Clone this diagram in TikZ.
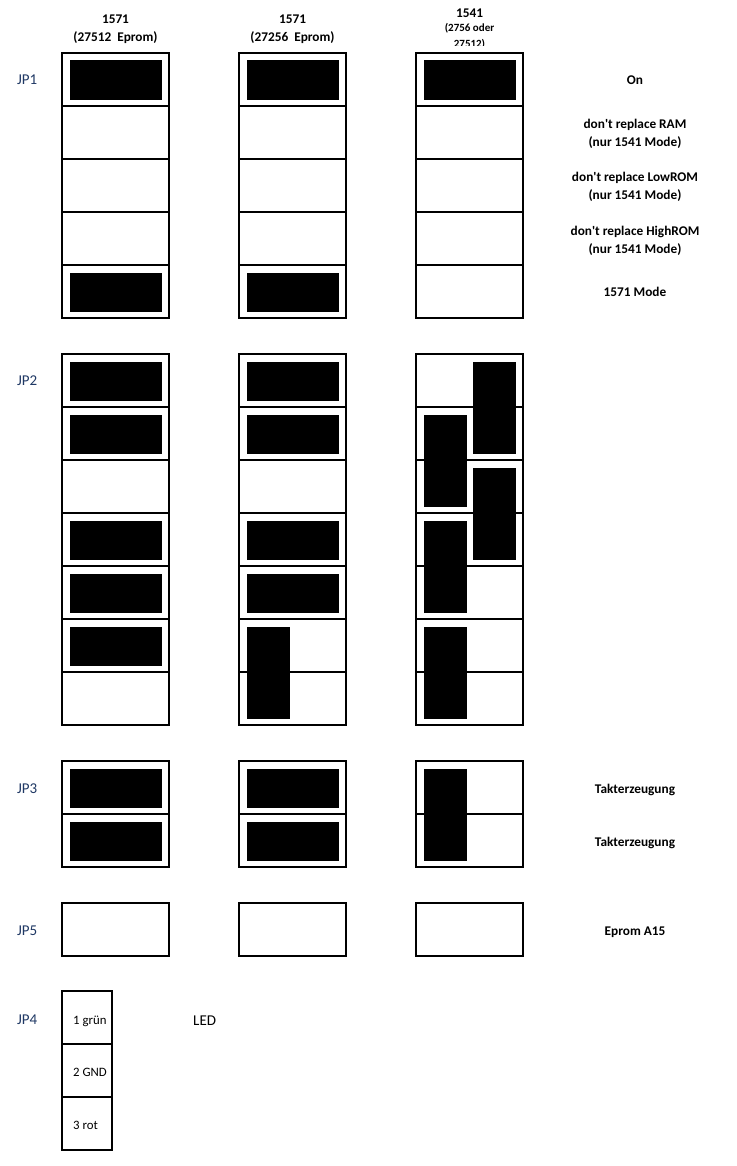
\documentclass[tikz,border=0pt]{standalone}
\usepackage{fontspec}
\setmainfont{Carlito}
\definecolor{jpblue}{RGB}{31,56,100}
\newcommand\blkH[2]{\fill[blk] ({#1+8},{#2+7.5}) rectangle ({#1+100},{#2+47});}
\newcommand\blkL[2]{\fill[blk] ({#1+8},{#2+7.5}) rectangle ({#1+51},{#2+100});}
\newcommand\blkR[2]{\fill[blk] ({#1+57},{#2+7.5}) rectangle ({#1+100},{#2+100});}
\begin{document}
\begin{tikzpicture}[x=1pt,y=-1pt,
  outer/.style={draw=black,line width=2pt},
  thinline/.style={draw=black,line width=1.1pt},
  blk/.style={fill=black},
  hdr/.style={font=\fontsize{13.3}{16}\selectfont\bfseries,inner sep=0pt,anchor=base},
  smallhdr/.style={font=\fontsize{11}{13}\selectfont\bfseries,inner sep=0pt,anchor=base},
  lab/.style={font=\fontsize{13.3}{16}\selectfont\bfseries,inner sep=0pt,anchor=base},
  jp/.style={font=\fontsize{15}{17}\selectfont,text=jpblue,inner sep=0pt,anchor=base west},
  pin/.style={font=\fontsize{12.8}{14}\selectfont,inner sep=0pt,anchor=base west}]
\fill[white] (0,0) rectangle (736,1166);
\useasboundingbox (0,0) rectangle (736,1166);

% headers
\node[hdr] (h1a) at (115.5,24) {1571};
\node[hdr] (h1b) at (115.5,42) {(27512\ \ Eprom)};
\node[hdr] (h2a) at (292.5,24) {1571};
\node[hdr] (h2b) at (292.5,42) {(27256\ \ Eprom)};
\node[hdr] (h3a) at (469.5,17.3) {1541};
\node[smallhdr] (h3b) at (469.5,31.7) {(2756 oder};
\begin{scope}
\clip (400,0) rectangle (540,46);
\node[smallhdr] (h3c) at (469.5,47.5) {27512)};
\end{scope}

% JP labels
\node[jp] (jp1) at (17,85) {JP1};
\node[jp] (jp2) at (17,385.5) {JP2};
\node[jp] (jp3) at (17,793.5) {JP3};
\node[jp] (jp5) at (17,935) {JP5};
\node[jp] (jp4) at (17,1024.5) {JP4};

% right labels
\node[lab] (l1) at (635,85) {On};
\node[lab] (l2a) at (635,129) {don\textquotesingle t replace RAM};
\node[lab] (l2b) at (635,146.5) {(nur 1541 Mode)};
\node[lab] (l3a) at (635,182) {don\textquotesingle t replace LowROM};
\node[lab] (l3b) at (635,199.5) {(nur 1541 Mode)};
\node[lab] (l4a) at (635,235.5) {don\textquotesingle t replace HighROM};
\node[lab] (l4b) at (635,253) {(nur 1541 Mode)};
\node[lab] (l5) at (635,296.7) {1571 Mode};
\node[lab] (l6) at (635,793.5) {Takterzeugung};
\node[lab] (l7) at (635,846.5) {Takterzeugung};
\node[lab] (l8) at (635,935.5) {Eprom A15};

% ---------- JP1 (T=53, 5 rows)
\foreach \L in {62,239,416}{
  \foreach \y in {106,159,212,265} \draw[thinline] (\L,\y) -- (\L+107,\y);
}
\blkH{62}{53} \blkH{62}{265}
\blkH{239}{53} \blkH{239}{265}
\blkH{416}{53}
\foreach \L in {62,239,416} \draw[outer] (\L,53) rectangle (\L+107,318);

% ---------- JP2 (T=354, 7 rows)
\foreach \L in {62,239,416}{
  \foreach \y in {407,460,513,566,619,672} \draw[thinline] (\L,\y) -- (\L+107,\y);
}
\blkH{62}{354} \blkH{62}{407} \blkH{62}{513} \blkH{62}{566} \blkH{62}{619}
\blkH{239}{354} \blkH{239}{407} \blkH{239}{513} \blkH{239}{566} \blkL{239}{619}
\blkR{416}{354} \blkR{416}{460}
\blkL{416}{407} \blkL{416}{513} \blkL{416}{619}
\foreach \L in {62,239,416} \draw[outer] (\L,354) rectangle (\L+107,725);

% ---------- JP3 (T=761, 2 rows)
\foreach \L in {62,239,416} \draw[thinline] (\L,814) -- (\L+107,814);
\blkH{62}{761} \blkH{62}{814}
\blkH{239}{761} \blkH{239}{814}
\blkL{416}{761}
\foreach \L in {62,239,416} \draw[outer] (\L,761) rectangle (\L+107,867);

% ---------- JP5
\foreach \L in {62,239,416} \draw[draw=black,line width=1.6pt] (\L,903) rectangle (\L+107,956);

% ---------- JP4
\draw[thinline] (62,1044) -- (112,1044);
\draw[thinline] (62,1097) -- (112,1097);
\draw[outer] (62,991) rectangle (112,1150);
\node[pin] (p1) at (73,1024) {1 grün};
\node[pin] (p2) at (73,1076.5) {2 GND};
\node[pin] (p3) at (73,1129.5) {3 rot};
\node[jp,text=black] (led) at (193,1025) {LED};
\end{tikzpicture}
\end{document}
